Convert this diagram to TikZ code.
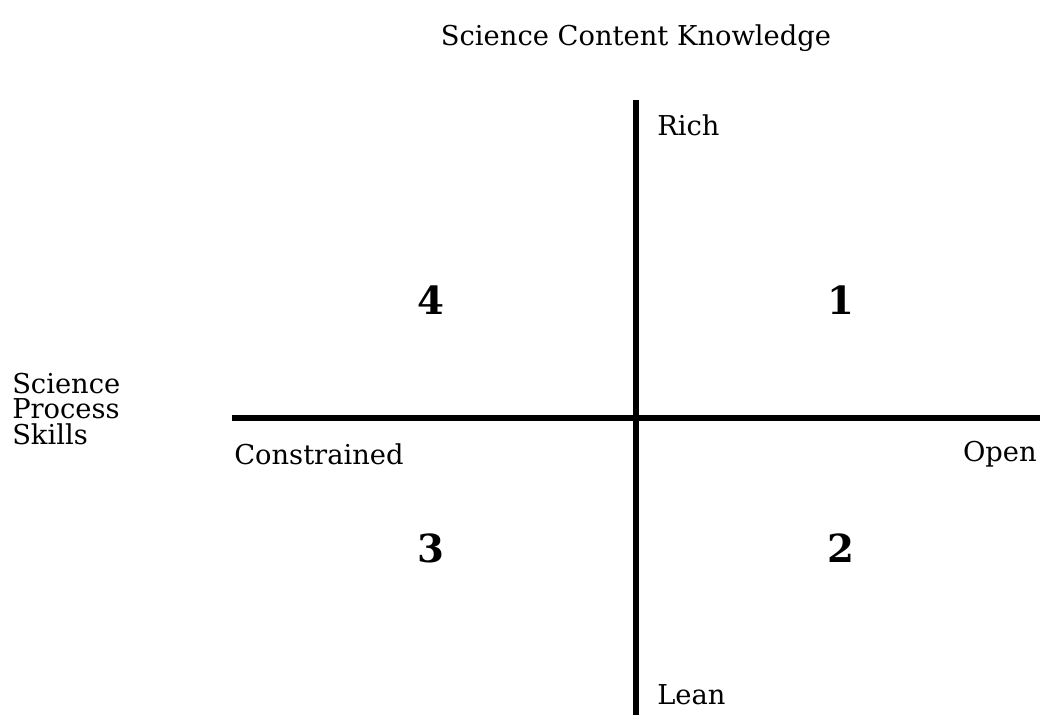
\documentclass[tikz,border=0pt]{standalone}
\usepackage{fontspec}
\setmainfont{DejaVu Serif}
\begin{document}
\begin{tikzpicture}[x=0.75pt,y=-0.75pt,
        axis/.style={line width=4pt},
        lbl/.style={font=\fontsize{20.5}{19}\selectfont, inner sep=0pt},
        quad/.style={font=\fontsize{29}{32}\selectfont\bfseries, inner sep=0pt}]
                \useasboundingbox (0,0) rectangle (1040,715);
                \coordinate (top) at (636,100);
                \coordinate (bot) at (636,715);
                \coordinate (left) at (232,418);
                \coordinate (right) at (1040,418);
                \draw[axis] (top) -- (bot);
                \draw[axis] (left) -- (right);
                \node[lbl] (title) at (636,38) {Science Content Knowledge};
                \node[lbl, anchor=west] (rich) at (657,125) {Rich};
                \node[lbl, anchor=west] (lean) at (657,695) {Lean};
                \node[lbl, anchor=west] (constr) at (234,454) {Constrained};
                \node[lbl, anchor=east] (open) at (1037,454) {Open};
                \node[lbl, anchor=west, align=left] (skills) at (12,409) {Science\\Process\\Skills};
                \node[quad] (q4) at (431,300) {4};
                \node[quad] (q1) at (841,300) {1};
                \node[quad] (q3) at (431,548) {3};
                \node[quad] (q2) at (841,548) {2};
            \end{tikzpicture}
\end{document}
